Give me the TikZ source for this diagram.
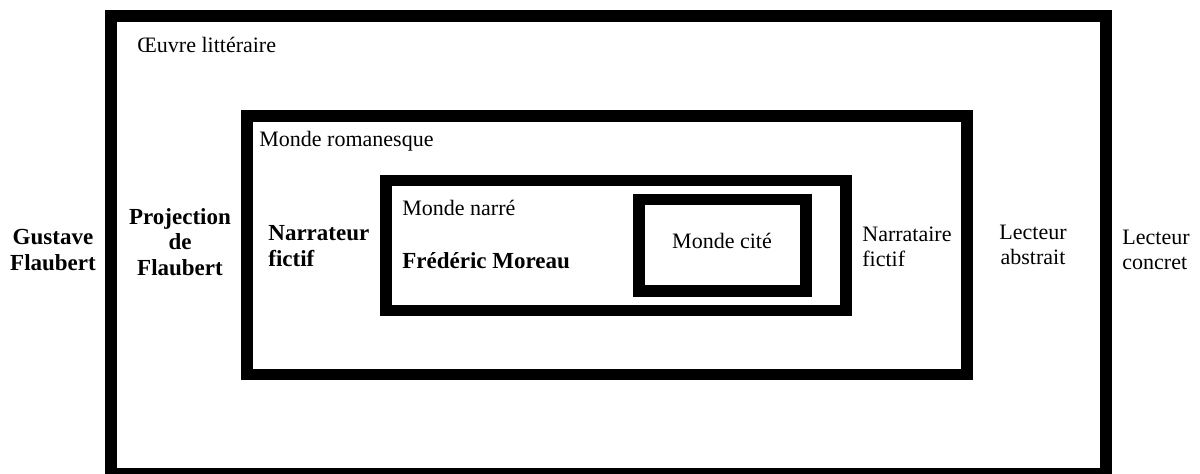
\documentclass[tikz,border=0pt]{standalone}
\usepackage{fontspec}
\setmainfont{Liberation Serif}
\newfontfamily\timesfont{Liberation Serif}
\usepackage{tikz}
\usetikzlibrary{positioning}

\begin{document}
\begin{tikzpicture}[
  x=0.5pt,y=-0.5pt,
  frame/.style={draw,line width=5.75pt},
  lbl/.style={inner sep=0pt,align=left,font=\timesfont\fontsize{11}{12.75}\selectfont},
  blbl/.style={lbl,font=\timesfont\bfseries\fontsize{11.5}{12.75}\selectfont}]
  \useasboundingbox[fill=white] (0,0) rectangle (1200,473);
  % nested frames
  \draw[frame] (111,16) rectangle (1106,474);
  \draw[frame] (247,116) rectangle (967,374.5);
  \draw[frame] (386,180.5) rectangle (846,310.5);
  \draw[frame] (639,199.5) rectangle (806,291);
  % frame titles
  \node[lbl,anchor=base west] (oeuvre) at (137,52) {Œuvre littéraire};
  \node[lbl,anchor=base west] (roman) at (259,146) {Monde romanesque};
  \node[lbl,anchor=base west] (narre) at (402,215) {Monde narré};
  \node[blbl,anchor=base west] (moreau) at (402,268) {Frédéric Moreau};
  \node[lbl,anchor=base] (cite) at (722,248) {Monde cité};
  % instances, left side
  \node[blbl,align=center] (gustave) at (53,250) {Gustave\\Flaubert};
  \node[blbl,align=center] (projection) at (180,242) {Projection\\de\\Flaubert};
  \node[blbl,anchor=west] (narrateur) at (268,246) {Narrateur\\fictif};
  % instances, right side
  \node[lbl,anchor=west] (narrataire) at (862,247) {Narrataire\\fictif};
  \node[lbl,align=center] (abstrait) at (1033,245) {Lecteur\\abstrait};
  \node[lbl,anchor=west] (concret) at (1122,250) {Lecteur\\concret};
\end{tikzpicture}
\end{document}
